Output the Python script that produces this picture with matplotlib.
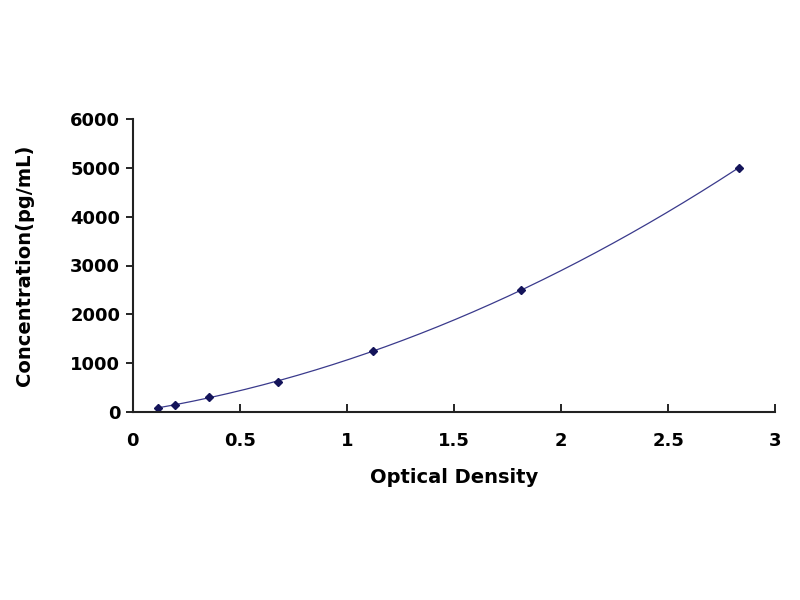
import numpy as np
import matplotlib
matplotlib.use("Agg")
import matplotlib.pyplot as plt

od = [0.117, 0.196, 0.355, 0.677, 1.12, 1.815, 2.83]
conc = [78, 156, 312, 625, 1250, 2500, 5000]
xticks = [0, 0.5, 1, 1.5, 2, 2.5, 3]
xticklabels = ["0", "0.5", "1", "1.5", "2", "2.5", "3"]
yticks = [0, 1000, 2000, 3000, 4000, 5000, 6000]

plt.rcParams['font.family'] = ['DejaVu Sans']
fig = plt.figure(figsize=(8, 6), dpi=100)
ax = fig.add_axes([0.166, 0.313, 0.803, 0.489])

coef = np.polyfit(od, conc, 3)
xs = np.linspace(od[0], od[-1], 200)
ax.plot(xs, np.polyval(coef, xs), color='#3a3a8c', lw=0.9)
ax.plot(od, conc, linestyle='none', marker='D', ms=4.5, color='#14145a')

ax.set_xlim(0, 3)
ax.set_ylim(0, 6000)
ax.set_xticks(xticks)
ax.set_xticklabels(xticklabels)
ax.set_yticks(yticks)
for s in ['top', 'right']:
    ax.spines[s].set_visible(False)
for s in ['left', 'bottom']:
    ax.spines[s].set_linewidth(1.5)
    ax.spines[s].set_color('#222222')
ax.tick_params(axis='x', direction='in', length=6, width=1.2, pad=14, labelsize=13)
ax.tick_params(axis='y', direction='out', length=5, width=1.2, pad=4, labelsize=13)
for lbl in ax.get_xticklabels() + ax.get_yticklabels():
    lbl.set_fontweight('bold')
ax.set_xlabel('Optical Density', fontsize=14, fontweight='bold', labelpad=13)
ax.set_ylabel('Concentration(pg/mL)', fontsize=14, fontweight='bold', labelpad=26)

fig.savefig('out.png', dpi=100)
